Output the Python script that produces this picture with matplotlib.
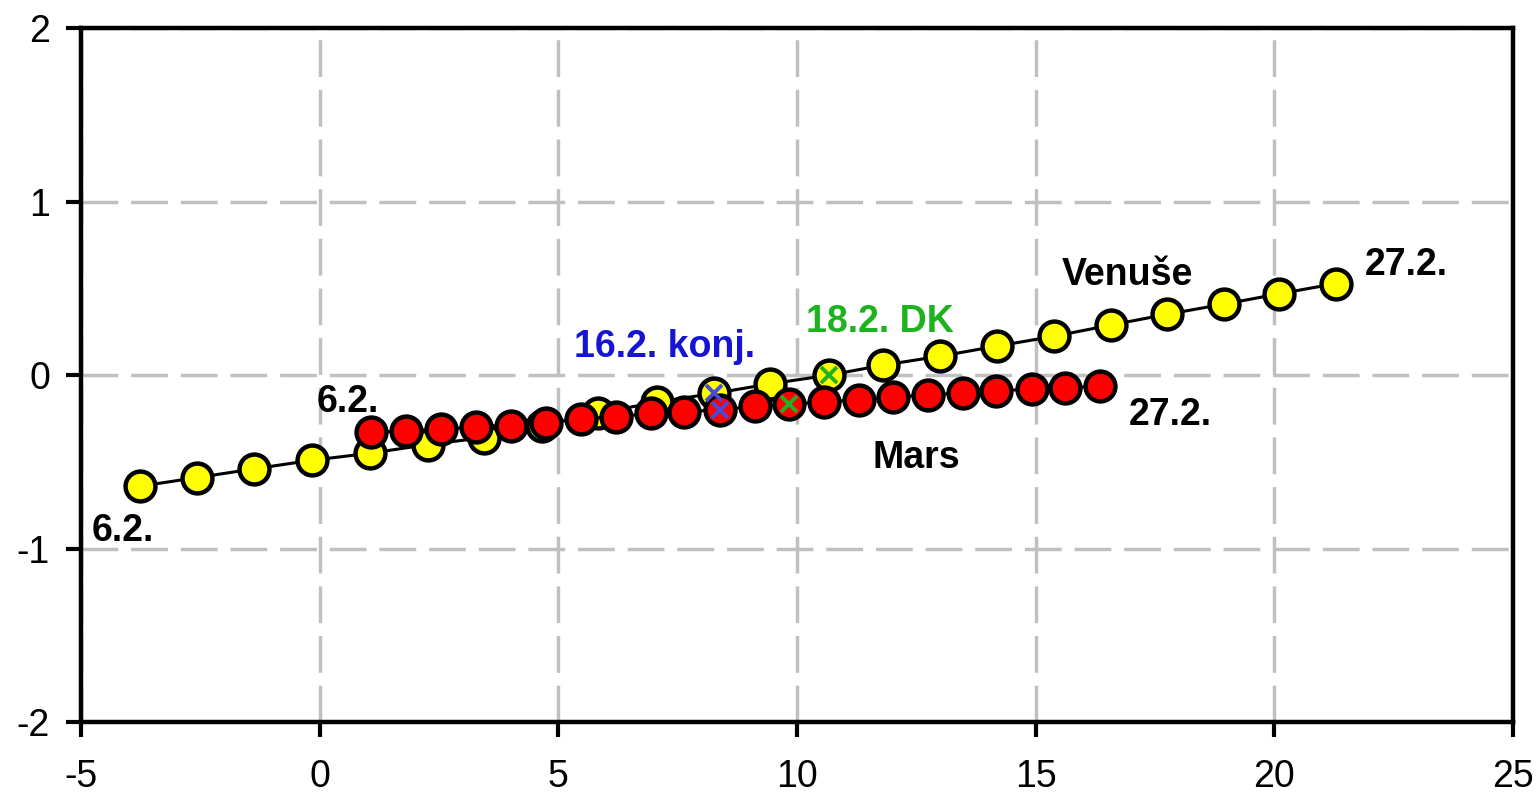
import matplotlib
matplotlib.use("Agg")
import matplotlib.pyplot as plt

plt.rcParams['font.family'] = ['Liberation Sans', 'DejaVu Sans']
plt.rcParams['axes.unicode_minus'] = False

# Daily positions 6.2. .. 27.2. (22 days)
venus_x = [-3.77, -2.57, -1.38, -0.16, 1.05, 2.26, 3.44, 4.65, 5.83, 7.06, 8.25,
           9.43, 10.66, 11.80, 13.00, 14.19, 15.39, 16.57, 17.76, 18.95, 20.11, 21.30]
venus_y = [-0.64, -0.59, -0.54, -0.49, -0.45, -0.40, -0.36, -0.29, -0.22, -0.155, -0.105,
           -0.05, 0.0, 0.058, 0.11, 0.168, 0.225, 0.289, 0.352, 0.41, 0.47, 0.529]
mars_x = [1.07, 1.80, 2.54, 3.27, 4.01, 4.74, 5.48, 6.21, 6.94, 7.64, 8.38,
          9.11, 9.83, 10.56, 11.30, 12.01, 12.75, 13.47, 14.18, 14.92, 15.61, 16.35]
mars_y = [-0.33, -0.32, -0.31, -0.30, -0.29, -0.275, -0.25, -0.24, -0.22, -0.21, -0.20,
          -0.18, -0.165, -0.155, -0.14, -0.125, -0.115, -0.10, -0.09, -0.08, -0.075, -0.06]

conj_idx = 10   # 16.2. conjunction
dk_idx = 12     # 18.2. DK

x_ticks = [-5, 0, 5, 10, 15, 20, 25]
y_ticks = [-2, -1, 0, 1, 2]

fig = plt.figure(figsize=(15.4, 7.95), dpi=100)
ax = fig.add_axes([0.0528, 0.0918, 0.9295, 0.8724])

ax.set_xlim(-5, 25)
ax.set_ylim(-2, 2)
ax.set_xticks(x_ticks)
ax.set_yticks(y_ticks)
ax.set_xticklabels([str(v) for v in x_ticks])
ax.set_yticklabels([str(v) for v in y_ticks])

ax.set_axisbelow(True)
ax.grid(True, color='#c0c0c0', linewidth=2.5, linestyle=(0, (10.6, 3.7)))

for s in ax.spines.values():
    s.set_linewidth(3.2)
    s.set_color('black')
ax.tick_params(direction='out', length=10.5, width=3, colors='black',
               labelsize=27)
ax.tick_params(axis='y', pad=12)
ax.tick_params(axis='x', pad=16)

marker_kw = dict(marker='o', markersize=21.5, markeredgewidth=3.2,
                 markeredgecolor='black', color='black', linewidth=2.2)
ax.plot(venus_x, venus_y, markerfacecolor='#ffff00', zorder=3, **marker_kw)
ax.plot(mars_x, mars_y, markerfacecolor='#ff0000', zorder=4, **marker_kw)

cross_kw = dict(marker='x', markersize=11, markeredgewidth=2.8, linestyle='none', zorder=6)
ax.plot([venus_x[conj_idx], mars_x[conj_idx]], [venus_y[conj_idx], mars_y[conj_idx]],
        color='#4a4ad8', **cross_kw)
ax.plot([venus_x[dk_idx], mars_x[dk_idx]], [venus_y[dk_idx], mars_y[dk_idx]],
        color='#22b022', **cross_kw)

lab = dict(fontsize=27, fontweight='bold', ha='center', va='baseline', zorder=7)
ax.text(-4.13, -0.958, '6.2.', color='black', **lab)
ax.text(0.583, -0.2135, '6.2.', color='black', **lab)
ax.text(7.233, 0.106, '16.2. konj.', color='#1414d2', **lab)
ax.text(11.73, 0.25, '18.2. DK', color='#1db31d', **lab)
ax.text(16.92, 0.519, 'Venuše', color='black', **lab)
ax.text(22.77, 0.577, '27.2.', color='black', **lab)
ax.text(17.82, -0.2885, '27.2.', color='black', **lab)
ax.text(12.49, -0.537, 'Mars', color='black', **lab)

fig.savefig('out.png', dpi=100)
